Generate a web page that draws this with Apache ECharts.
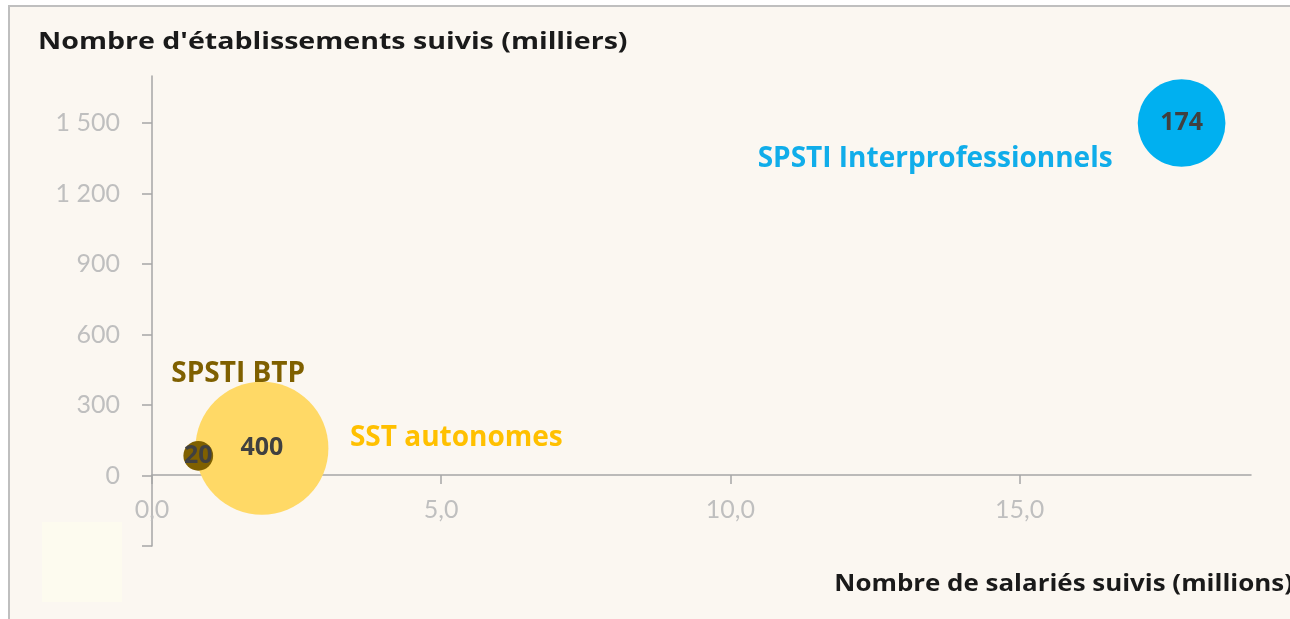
<!DOCTYPE html>
<html>
<head>
<meta charset="utf-8">
<script src="https://cdn.jsdelivr.net/npm/echarts@6/dist/echarts.min.js"></script>
<style>
html,body{margin:0;padding:0;background:#ffffff;}
#chart{width:1290px;height:619px;}
</style>
</head>
<body>
<div id="chart"></div>
<script>
// ---- Data ----
const seriesNames = ['SPSTI Interprofessionnels', 'SST autonomes', 'SPSTI BTP'];
const salaries = [17.8, 1.9, 0.8];          // millions (x)
const etablissements = [1500, 116, 84];     // milliers (y)
const bubbleValues = [174, 400, 20];        // bubble size / label
const yTickValues = [-300, 0, 300, 600, 900, 1200, 1500];
const yLabelValues = [0, 300, 600, 900, 1200, 1500];
const xTickValues = [0, 5, 10, 15];
const yTitle = "Nombre d'établissements suivis (milliers)";
const xTitle = 'Nombre de salariés suivis (millions)';

// ---- Styles ----
const bubbleColors = ['#00B0F0', '#FFD966', '#7F6000'];
const nameColors = ['#10ADEA', '#FFC000', '#7F6000'];
const nameOffsets = [[-69, 36], [88, -10], [-27, -82]];
const nameAlign = ['right', 'left', 'left'];
const BOLD_FONT = '"Open Sans"';
const TICK_FONT = 'Lato';

const chart = echarts.init(document.getElementById('chart'), null, {renderer: 'canvas'});

const series = [];
seriesNames.forEach((n, i) => {
  series.push({
    type: 'scatter',
    name: n,
    z: 2 + i,
    data: [[salaries[i], etablissements[i], bubbleValues[i]]],
    symbolSize: d => 6.65 * Math.sqrt(d[2]),
    itemStyle: {color: bubbleColors[i], opacity: 1},
    label: {
      show: true, position: 'inside',
      formatter: p => String(p.value[2]),
      color: '#404040', fontFamily: BOLD_FONT, fontWeight: 'bold', fontSize: 25
    },
    emphasis: {disabled: true},
    silent: true
  });
});
seriesNames.forEach((n, i) => {
  series.push({
    type: 'scatter',
    name: n + ' (étiquette)',
    z: 10,
    data: [[salaries[i], etablissements[i]]],
    symbolSize: 2,
    itemStyle: {color: 'rgba(0,0,0,0)', opacity: 1},
    label: {
      show: true, position: 'inside',
      formatter: () => n,
      offset: nameOffsets[i],
      align: nameAlign[i],
      verticalAlign: 'middle',
      color: nameColors[i], fontFamily: BOLD_FONT, fontWeight: 'bold', fontSize: 28
    },
    emphasis: {disabled: true},
    silent: true
  });
});

const option = {
  animation: false,
  backgroundColor: '#ffffff',
  graphic: [
    {type: 'rect', z: -10, shape: {x: 9, y: 6, width: 1300, height: 640},
     style: {fill: '#FBF7F1', stroke: '#BFBFBF', lineWidth: 2}},
    {type: 'rect', z: 100, shape: {x: 42, y: 522, width: 80, height: 80},
     style: {fill: '#FDFBEF'}},
    {type: 'text', z: 100, x: 38, y: 42, scaleX: 1.19,
     style: {text: yTitle, fill: '#1a1a1a', font: 'bold 24px ' + BOLD_FONT, textVerticalAlign: 'middle'}},
    {type: 'text', z: 100, x: 1293, y: 584, scaleX: 1.08,
     style: {text: xTitle, fill: '#1a1a1a', font: 'bold 24px ' + BOLD_FONT, textAlign: 'right', textVerticalAlign: 'middle'}}
  ],
  grid: {left: 152, right: 39, top: 76, bottom: 73, containLabel: false},
  xAxis: {
    type: 'value', min: 0, max: 19, interval: 5,
    offset: -71,
    axisLine: {show: true, onZero: false, lineStyle: {color: '#A6A6A6', width: 1.5}},
    axisTick: {show: true, length: 9, customValues: xTickValues, lineStyle: {color: '#A6A6A6', width: 1.5}},
    axisLabel: {
      show: true, customValues: xTickValues, margin: 22,
      color: '#BFBFBF', fontFamily: TICK_FONT, fontSize: 25,
      formatter: v => v.toFixed(1).replace('.', ',')
    },
    splitLine: {show: false}
  },
  yAxis: {
    type: 'value', min: -300, max: 1700, interval: 300,
    axisLine: {show: true, onZero: false, lineStyle: {color: '#A6A6A6', width: 1.5}},
    axisTick: {show: true, length: 10, customValues: yTickValues, lineStyle: {color: '#A6A6A6', width: 1.5}},
    axisLabel: {
      show: true, customValues: yLabelValues, margin: 32,
      color: '#BFBFBF', fontFamily: TICK_FONT, fontSize: 25,
      formatter: v => String(v).replace(/\B(?=(\d{3})+(?!\d))/g, ' ')
    },
    splitLine: {show: false}
  },
  series: series
};
chart.setOption(option);
</script>
</body>
</html>
